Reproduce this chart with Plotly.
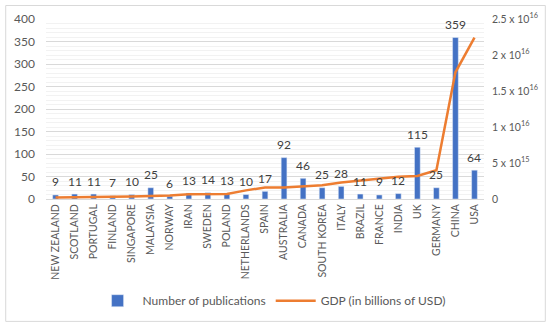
import plotly.graph_objects as go

countries = ["NEW ZEALAND", "SCOTLAND", "PORTUGAL", "FINLAND", "SINGAPORE", "MALAYSIA",
             "NORWAY", "IRAN", "SWEDEN", "POLAND", "NETHERLANDS", "SPAIN", "AUSTRALIA",
             "CANADA", "SOUTH KOREA", "ITALY", "BRAZIL", "FRANCE", "INDIA", "UK",
             "GERMANY", "CHINA", "USA"]
publications = [9, 11, 11, 7, 10, 25, 6, 13, 14, 13, 10, 17, 92, 46, 25, 28, 11, 9, 12, 115, 25, 359, 64]
gdp = [0.2e15, 0.2e15, 0.25e15, 0.3e15, 0.35e15, 0.4e15, 0.5e15, 0.65e15, 0.65e15, 0.7e15,
       1.2e15, 1.6e15, 1.6e15, 1.8e15, 1.9e15, 2.3e15, 2.6e15, 2.9e15, 3.1e15, 3.2e15,
       4.0e15, 17.6e15, 22.4e15]
right_tickvals = [0, 5e15, 1e16, 1.5e16, 2e16, 2.5e16]
right_ticktext = ["0", "5 x 10<sup>15</sup>", "1 x 10<sup>16</sup>", "1.5 x 10<sup>16</sup>",
                  "2 x 10<sup>16</sup>", "2.5 x 10<sup>16</sup>"]

FONT = "Lato, Open Sans, sans-serif"
GRAY = "#595959"

fig = go.Figure()
fig.add_trace(go.Bar(x=countries, y=publications, name="Number of publications",
                     marker_color="#4472C4", yaxis="y"))
fig.add_trace(go.Scatter(x=countries, y=gdp, name="GDP (in billions of USD)",
                         mode="lines", line=dict(color="#ED7D31", width=2.5), yaxis="y2"))

for c, v in zip(countries, publications):
    fig.add_annotation(x=c, y=v, text=str(v), showarrow=False, yshift=13, yref="y",
                       font=dict(family=FONT, size=12, color="#404040"))

fig.add_shape(type="rect", xref="paper", yref="paper", x0=-0.092, x1=1.14, y0=-0.68, y1=1.075,
              line=dict(color="#d9d9d9", width=1), layer="below")

fig.update_layout(
    width=550, height=327,
    margin=dict(l=46, r=66, t=19, b=128),
    paper_bgcolor="white", plot_bgcolor="white",
    font=dict(family=FONT, size=12, color=GRAY),
    bargap=0.7,
    showlegend=True,
    legend=dict(orientation="h", x=0.515, xanchor="center", y=-0.565, yanchor="middle",
                font=dict(size=12, color=GRAY), itemwidth=40, traceorder="normal"),
    xaxis=dict(tickangle=-90, showgrid=False, showline=True, linecolor="#d9d9d9",
               tickfont=dict(size=10.5, color=GRAY), ticks="", automargin=False),
    yaxis=dict(range=[0, 400], dtick=50, showgrid=True, gridcolor="#d9d9d9",
               minor=dict(dtick=10, showgrid=True, gridcolor="#f2f2f2"),
               zeroline=False, tickfont=dict(size=12, color=GRAY), ticks="", automargin=False,
               ticklabelstandoff=10),
    yaxis2=dict(range=[0, 2.5e16], overlaying="y", side="right", tickvals=right_tickvals,
                ticktext=right_ticktext, showgrid=False, zeroline=False,
                tickfont=dict(size=10.5, color=GRAY), ticks="", automargin=False,
                ticklabelstandoff=7),
)

fig.write_html("out.html", post_script="document.body.style.margin='0';",
               config={"displayModeBar": False})
